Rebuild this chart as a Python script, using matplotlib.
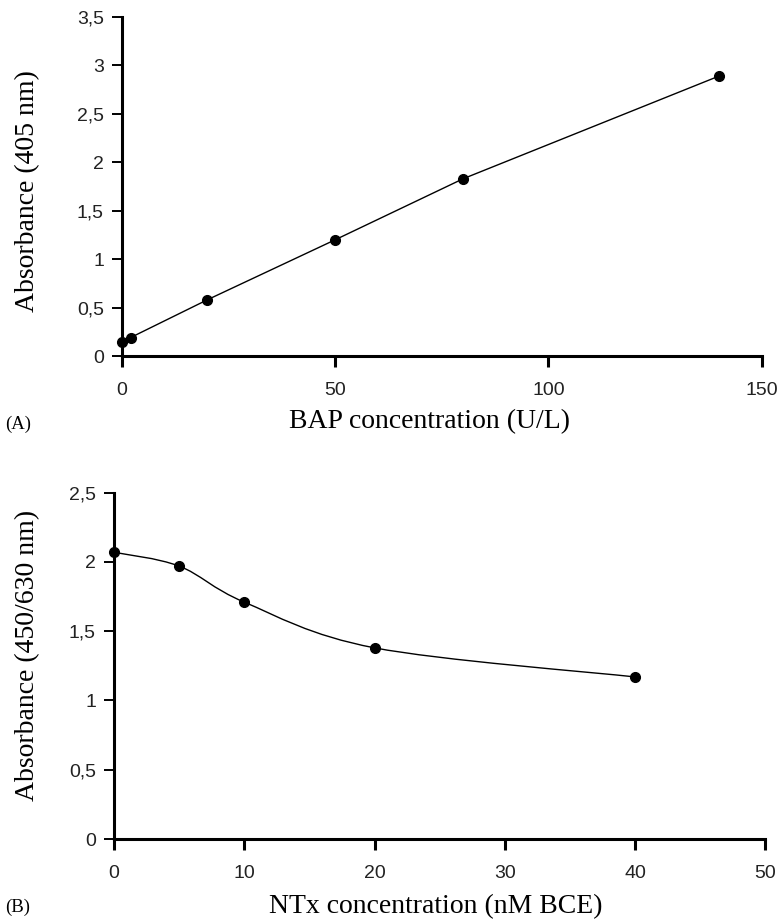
import matplotlib

matplotlib.use("Agg")
import matplotlib.pyplot as plt
from matplotlib.path import Path
from matplotlib.patches import PathPatch
from matplotlib.ticker import FuncFormatter

# Panel A: BAP standard curve
bap_conc = [0, 2, 20, 50, 80, 140]
bap_abs = [0.14, 0.19, 0.58, 1.20, 1.83, 2.89]

# Panel B: NTx standard curve
ntx_conc = [0, 5, 10, 20, 40]
ntx_abs = [2.07, 1.97, 1.71, 1.38, 1.17]

SANS = "Liberation Sans"
SERIF = "Liberation Serif"


def comma(v, _pos):
  s = f"{v:g}"
  return s.replace(".", ",")


def smooth_path(xs, ys):
  # Excel-style smoothed line: Catmull-Rom converted to cubic Bezier
  pts = list(zip(xs, ys))
  verts = [pts[0]]
  codes = [Path.MOVETO]
  n = len(pts)
  for i in range(n - 1):
    p0 = pts[i - 1] if i > 0 else pts[i]
    p1 = pts[i]
    p2 = pts[i + 1]
    p3 = pts[i + 2] if i + 2 < n else pts[i + 1]
    c1 = (p1[0] + (p2[0] - p0[0]) / 6, p1[1] + (p2[1] - p0[1]) / 6)
    c2 = (p2[0] - (p3[0] - p1[0]) / 6, p2[1] - (p3[1] - p1[1]) / 6)
    verts += [c1, c2, p2]
    codes += [Path.CURVE4] * 3
  return Path(verts, codes)


def style_axes(ax, xlim, ylim, xticks, yticks):
  ax.set_xlim(*xlim)
  ax.set_ylim(*ylim)
  ax.set_xticks(xticks)
  ax.set_yticks(yticks)
  ax.yaxis.set_major_formatter(FuncFormatter(comma))
  ax.spines["top"].set_visible(False)
  ax.spines["right"].set_visible(False)
  for side in ("left", "bottom"):
    ax.spines[side].set_linewidth(2.2)
  ax.tick_params(axis="x", direction="out", length=8, width=2.2, pad=11,
                 labelsize=14, colors="black")
  ax.tick_params(axis="y", direction="out", length=7, width=1.4, pad=6,
                 labelsize=14, colors="black")
  for lab in ax.get_xticklabels() + ax.get_yticklabels():
    lab.set_family(SANS)
    lab.set_color("#222222")


fig = plt.figure(figsize=(7.82, 9.23), dpi=100)

ax_a = fig.add_axes([0.156, 0.6143, 0.818, 0.3673])
ax_a.plot(bap_conc, bap_abs, color="black", linewidth=1.0, marker="o",
          markersize=7, clip_on=False, zorder=3)
style_axes(ax_a, (0, 150), (0, 3.5), [0, 50, 100, 150],
           [0, 0.5, 1, 1.5, 2, 2.5, 3, 3.5])

ax_b = fig.add_axes([0.1458, 0.0910, 0.833, 0.3752])
ax_b.add_patch(PathPatch(smooth_path(ntx_conc, ntx_abs), facecolor="none",
                         edgecolor="black", linewidth=1.0, zorder=2))
ax_b.plot(ntx_conc, ntx_abs, linestyle="none", color="black", marker="o",
          markersize=7, clip_on=False, zorder=3)
style_axes(ax_b, (0, 50), (0, 2.5), [0, 10, 20, 30, 40, 50],
           [0, 0.5, 1, 1.5, 2, 2.5])

fig.text(429.5 / 782, 1 - 428 / 923, "BAP concentration (U/L)", family=SERIF,
         fontsize=20, ha="center", va="baseline")
fig.text(436 / 782, 1 - 913 / 923, "NTx concentration (nM BCE)", family=SERIF,
         fontsize=20, ha="center", va="baseline")
fig.text(28 / 782, 1 - 191 / 923, "Absorbance (405 nm)", family=SERIF,
         fontsize=20, rotation=90, ha="center", va="center")
fig.text(28 / 782, 1 - 655 / 923, "Absorbance (450/630 nm)", family=SERIF,
         fontsize=20, rotation=90, ha="center", va="center")
fig.text(5 / 782, 1 - 424 / 923, "(A)", family=SERIF, fontsize=13.5,
         ha="left", va="center")
fig.text(5 / 782, 1 - 907 / 923, "(B)", family=SERIF, fontsize=13.5,
         ha="left", va="center")

fig.savefig("out.png", dpi=100, facecolor="white")
